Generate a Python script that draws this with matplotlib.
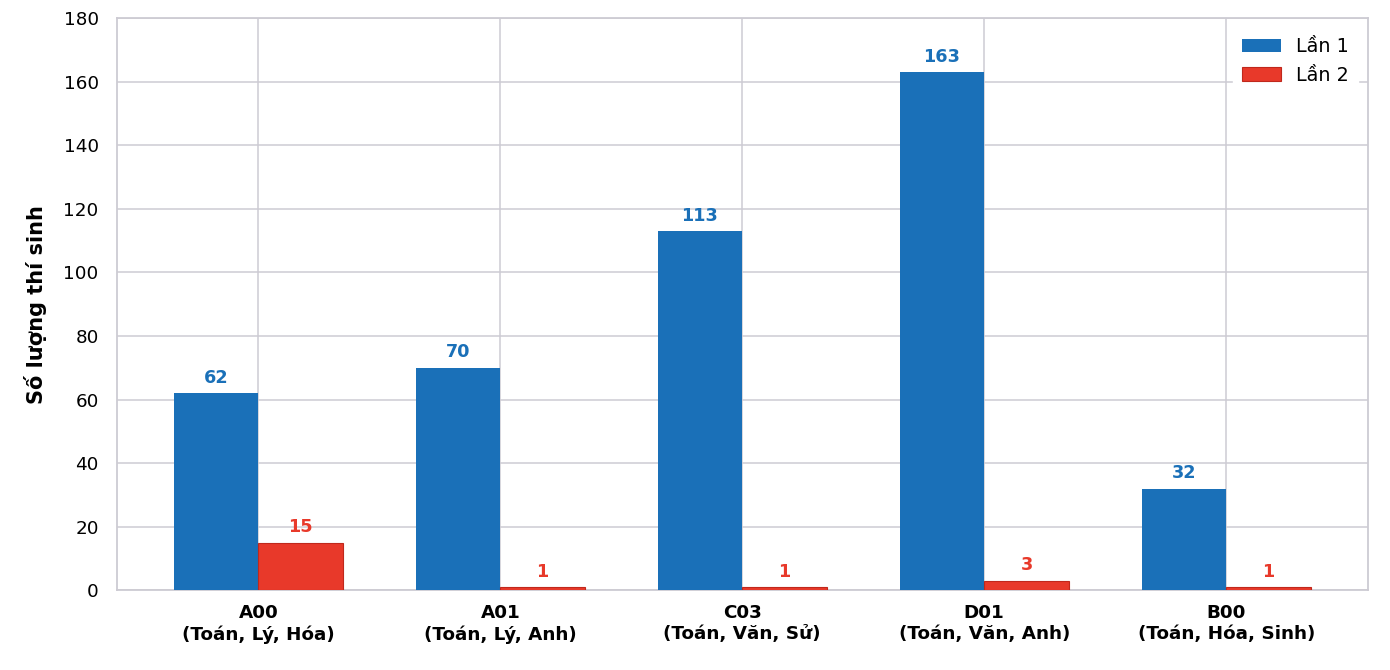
import matplotlib
matplotlib.use("Agg")
import matplotlib.pyplot as plt
import numpy as np

categories = ["A00\n(Toán, Lý, Hóa)", "A01\n(Toán, Lý, Anh)", "C03\n(Toán, Văn, Sử)",
              "D01\n(Toán, Văn, Anh)", "B00\n(Toán, Hóa, Sinh)"]
lan1 = [62, 70, 113, 163, 32]
lan2 = [15, 1, 1, 3, 1]
yticks = [0, 20, 40, 60, 80, 100, 120, 140, 160, 180]

blue = "#1a70b8"
red = "#e8392a"
gridc = "#cdcbd3"

fig, ax = plt.subplots(figsize=(13.9, 6.7), dpi=100)
fig.subplots_adjust(left=0.084, right=0.984, top=0.973, bottom=0.119)

x = np.arange(len(categories))
w = 0.35
b1 = ax.bar(x - w / 2, lan1, w, color=blue, label="Lần 1", zorder=3)
b2 = ax.bar(x + w / 2, lan2, w, color=red, edgecolor="#c0281c", linewidth=0.8, label="Lần 2", zorder=3)

for rect, v in zip(b1, lan1):
    ax.text(rect.get_x() + rect.get_width() / 2, v + 2, str(v), ha="center", va="bottom",
            color=blue, fontsize=12.7, fontweight="bold")
for rect, v in zip(b2, lan2):
    ax.text(rect.get_x() + rect.get_width() / 2, v + 2, str(v), ha="center", va="bottom",
            color=red, fontsize=12.7, fontweight="bold")

ax.set_xticks(x)
ax.set_xticklabels(categories, fontsize=13.2, fontweight="bold")
ax.set_ylim(0, 180)
ax.set_yticks(yticks)
ax.tick_params(axis="y", labelsize=13.2, length=0, pad=13)
ax.tick_params(axis="x", length=0, pad=10)
ax.set_ylabel("Số lượng thí sinh", fontsize=15, fontweight="bold", labelpad=12)

ax.grid(True, color=gridc, linewidth=1.1, zorder=0)
ax.set_axisbelow(True)
for s in ax.spines.values():
    s.set_color(gridc)
    s.set_linewidth(1.3)

leg = ax.legend(loc="upper right", fontsize=13.8, frameon=True, framealpha=1, edgecolor="white",
                borderpad=0.5)

fig.savefig("out.png", dpi=100)
